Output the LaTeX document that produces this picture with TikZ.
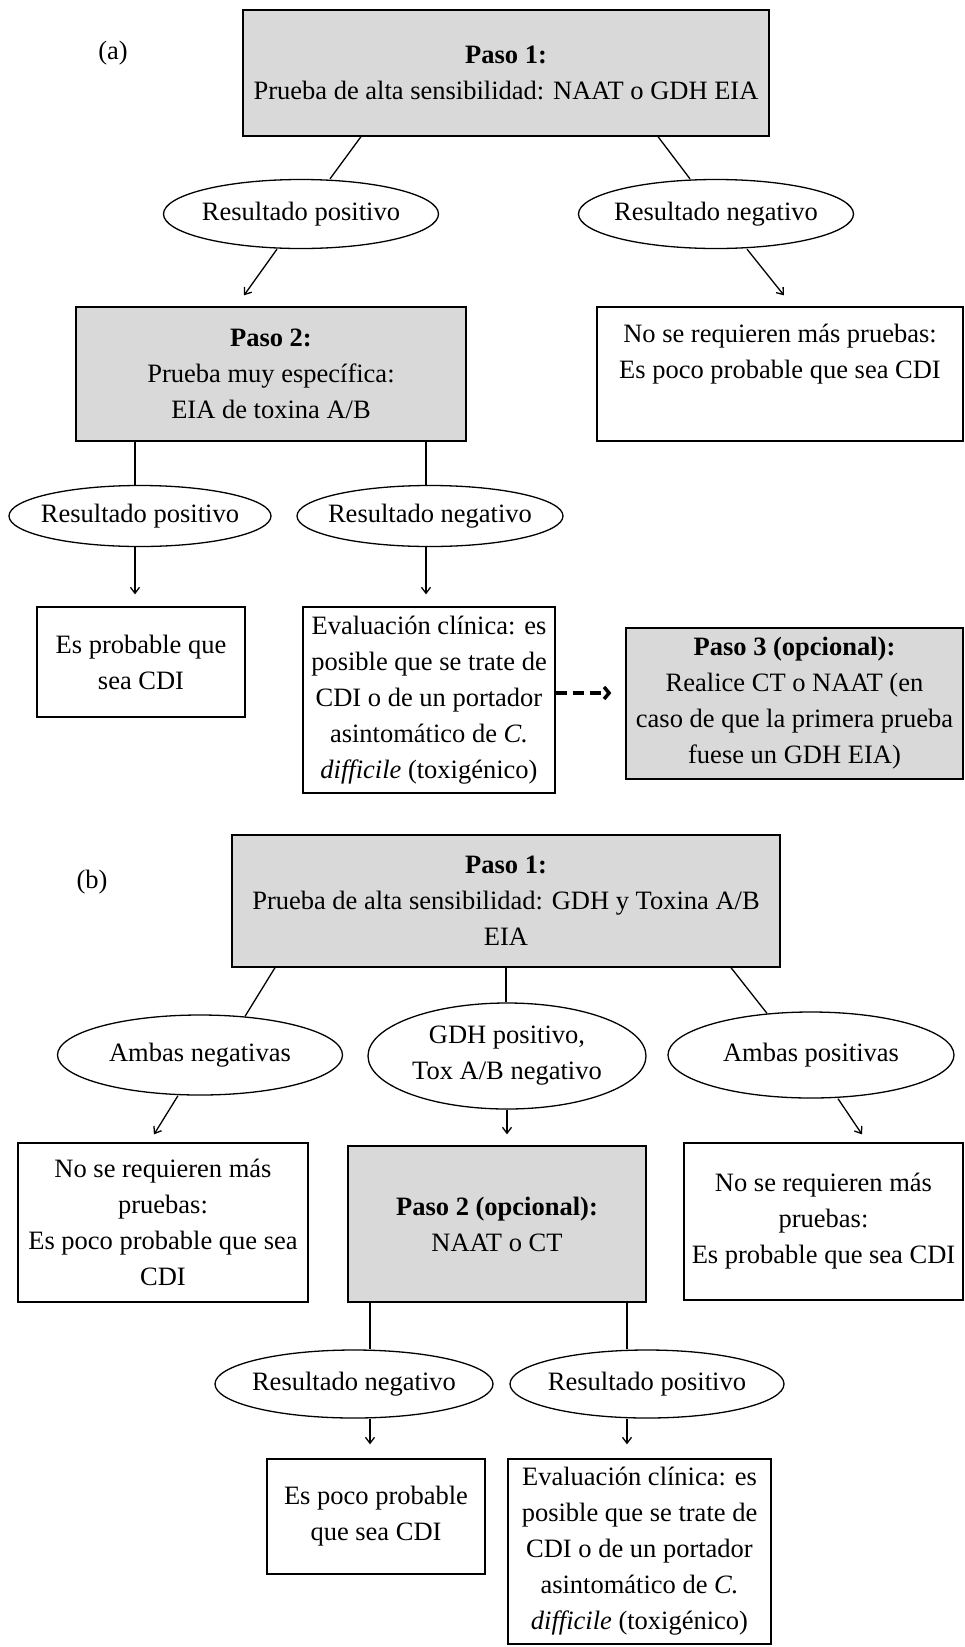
\documentclass[tikz,border=0pt]{standalone}
\usepackage{fontspec}
\setmainfont{Liberation Serif}
\usetikzlibrary{shapes.geometric,arrows.meta}
\definecolor{stepgray}{RGB}{217,217,217}
\tikzset{
  base/.style={font=\fontsize{26.5}{36}\selectfont, align=center, inner sep=0pt, line width=1.3pt},
  stepbox/.style={base, draw, rectangle, fill=stepgray},
  outbox/.style={base, draw, rectangle, fill=white},
  result/.style={base, draw, ellipse, inner sep=-40pt},
  tag/.style={font=\fontsize{26.5}{36}\selectfont, inner sep=0pt},
  link/.style={line width=1.3pt},
  arr/.style={line width=1.3pt, -{Straight Barb[length=6pt,width=9pt]}},
  dasharr/.style={line width=3.5pt, dash pattern=on 11pt off 6pt, -{Straight Barb[length=5pt,width=12pt]}}
}
\begin{document}
\begin{tikzpicture}[x=1pt,y=-1pt]
\useasboundingbox (0,0) rectangle (965,1647);

% ---------- (a) ----------
\node[tag] (la) at (113,53) {(a)};
\node[stepbox, minimum width=526pt, minimum height=126pt] (p1a) at (506,73)
  {\textbf{Paso 1:}\\Prueba de alta sensibilidad: NAAT o GDH EIA};
\node[result, minimum width=275pt, minimum height=69pt] (posA) at (301,214) {Resultado positivo};
\node[result, minimum width=275pt, minimum height=69pt] (negA) at (716,214) {Resultado negativo};
\node[stepbox, minimum width=390pt, minimum height=134pt] (p2a) at (271,374)
  {\textbf{Paso 2:}\\Prueba muy específica:\\EIA de toxina A/B};
\node[outbox, minimum width=366pt, minimum height=134pt] (noA) at (780,374)
  {No se requieren más pruebas:\\Es poco probable que sea CDI\\[10pt]};
\node[result, minimum width=262pt, minimum height=61pt] (pos2a) at (140,516) {Resultado positivo};
\node[result, minimum width=266pt, minimum height=61pt] (neg2a) at (430,516) {Resultado negativo};
\node[outbox, minimum width=208pt, minimum height=110pt] (probA) at (141,662)
  {Es probable que\\sea CDI};
\node[outbox, minimum width=252pt, minimum height=186pt] (evalA) at (429,700)
  {Evaluación clínica: es\\posible que se trate de\\CDI o de un portador\\asintomático de \textit{C.}\\\textit{difficile} (toxigénico)};
\node[stepbox, minimum width=337pt, minimum height=151pt] (p3a) at (794.5,703.5)
  {\textbf{Paso 3 (opcional):}\\Realice CT o NAAT (en\\caso de que la primera prueba\\fuese un GDH EIA)};

\draw[link] ([xshift=-145pt]p1a.south) -- ([xshift=29pt]posA.north);
\draw[link] ([xshift=152pt]p1a.south) -- ([xshift=-26pt]negA.north);
\draw[arr] ([xshift=-24pt]posA.south) -- ([xshift=-27pt,yshift=11pt]p2a.north);
\draw[arr] ([xshift=31pt]negA.south) -- ([xshift=4pt,yshift=11pt]noA.north);
\draw[link] ([xshift=-136pt]p2a.south) -- ([xshift=-136pt]p2a.south |- pos2a.north);
\draw[link] ([xshift=155pt]p2a.south) -- ([xshift=155pt]p2a.south |- neg2a.north);
\draw[arr] ([xshift=-5pt]pos2a.south) -- ([xshift=-5pt,yshift=12pt]pos2a.south |- probA.north);
\draw[arr] ([xshift=-4pt]neg2a.south) -- ([xshift=-4pt,yshift=12pt]neg2a.south |- evalA.north);
\draw[dasharr] ([yshift=7pt]evalA.east) -- ([xshift=-14pt,yshift=10.5pt]p3a.west);

% ---------- (b) ----------
\node[tag] (lb) at (92,882) {(b)};
\node[stepbox, minimum width=548pt, minimum height=132pt] (p1b) at (506,901)
  {\textbf{Paso 1:}\\Prueba de alta sensibilidad: GDH y Toxina A/B\\EIA};
\node[result, minimum width=285pt, minimum height=80pt] (ambNeg) at (200,1055) {Ambas negativas};
\node[result, minimum width=278pt, minimum height=106pt] (gdh) at (507,1056) {GDH positivo,\\Tox A/B negativo};
\node[result, minimum width=286pt, minimum height=86pt] (ambPos) at (811,1055) {Ambas positivas};
\node[outbox, minimum width=290pt, minimum height=159pt] (noB1) at (163,1222.5)
  {No se requieren más\\pruebas:\\Es poco probable que sea\\CDI};
\node[stepbox, minimum width=298pt, minimum height=156pt] (p2b) at (497,1224)
  {\textbf{Paso 2 (opcional):}\\NAAT o CT};
\node[outbox, minimum width=279pt, minimum height=157pt] (noB2) at (823.5,1221.5)
  {No se requieren más\\pruebas:\\Es probable que sea CDI};
\node[result, minimum width=278pt, minimum height=68pt] (negB) at (354,1384) {Resultado negativo};
\node[result, minimum width=274pt, minimum height=68pt] (posB) at (647,1384) {Resultado positivo};
\node[outbox, minimum width=218pt, minimum height=115pt] (pocoB) at (376,1516.5)
  {Es poco probable\\que sea CDI};
\node[outbox, minimum width=263pt, minimum height=185pt] (evalB) at (639.5,1551.5)
  {Evaluación clínica: es\\posible que se trate de\\CDI o de un portador\\asintomático de \textit{C.}\\\textit{difficile} (toxigénico)};

\draw[link] ([xshift=-231pt]p1b.south) -- ([xshift=45pt,yshift=-2pt]ambNeg.north);
\draw[link] (p1b.south) -- (p1b.south |- gdh.north);
\draw[link] ([xshift=225pt]p1b.south) -- ([xshift=-44pt,yshift=-2pt]ambPos.north);
\draw[arr] ([xshift=-22pt]ambNeg.south) -- ([xshift=-9pt,yshift=8pt]noB1.north);
\draw[arr] (gdh.south) -- ([yshift=11pt]gdh.south |- p2b.north);
\draw[arr] ([xshift=27pt]ambPos.south) -- ([xshift=38.5pt,yshift=8pt]noB2.north);
\draw[link] ([xshift=-127pt]p2b.south) -- ([xshift=-127pt]p2b.south |- negB.north);
\draw[link] ([xshift=130pt]p2b.south) -- ([xshift=130pt]p2b.south |- posB.north);
\draw[arr] ([xshift=16pt]negB.south) -- ([xshift=16pt,yshift=14pt]negB.south |- pocoB.north);
\draw[arr] ([xshift=-20pt]posB.south) -- ([xshift=-20pt,yshift=14pt]posB.south |- evalB.north);
\end{tikzpicture}
\end{document}
